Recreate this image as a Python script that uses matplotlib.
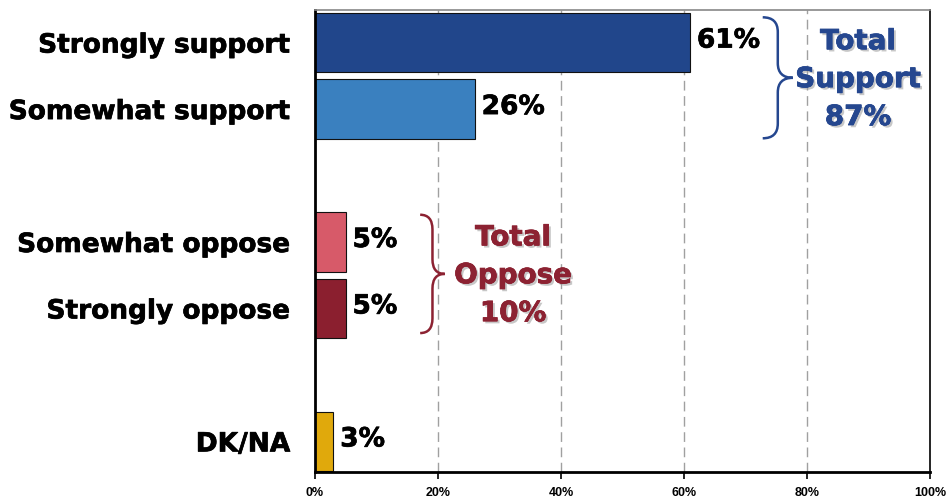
import matplotlib
matplotlib.use("Agg")
import matplotlib.pyplot as plt
import matplotlib.patheffects as pe
from matplotlib.path import Path
from matplotlib.patches import PathPatch

categories = ["Strongly support", "Somewhat support", "Somewhat oppose", "Strongly oppose", "DK/NA"]
values = [61, 26, 5, 5, 3]
positions = [0, 1, 3, 4, 6]
colors = ["#21468b", "#3a80bf", "#d75a69", "#8b1f2f", "#e0a90c"]
xticks = [0, 20, 40, 60, 80, 100]
xtick_labels = ["0%", "20%", "40%", "60%", "80%", "100%"]
group_labels = ["Total\nSupport\n87%", "Total\nOppose\n10%"]
group_colors = ["#25478f", "#8c2232"]

plt.rcParams['font.family'] = ['Liberation Sans', 'DejaVu Sans']
BIG = ['DejaVu Sans']
thick = [pe.withStroke(linewidth=0.5, foreground="black")]

fig = plt.figure(figsize=(9.5, 5.03), dpi=100)
ax = fig.add_axes([315/950, 1-472/503, 615/950, 462/503])

ax.set_xlim(0, 100)
ax.set_ylim(6.46, -0.49)

for g in [20, 40, 60, 80]:
    ax.axvline(g, color="#a0a0a0", lw=1.0, linestyle=(0, (7, 4)), zorder=0)

ax.barh(positions, values, height=0.9, color=colors, edgecolor="#111111", linewidth=0.8, zorder=2)

for p, v in zip(positions, values):
    ax.text(v + 1.1, p - 0.03, f"{v}%", va="center", ha="left", fontsize=19, fontweight="bold",
            color="black", family=BIG, path_effects=thick)

ax.set_yticks(positions)
ax.set_yticklabels(categories, fontsize=19, fontweight="bold", family=BIG)
for lbl in ax.get_yticklabels():
    lbl.set_path_effects(thick)
ax.tick_params(axis="y", length=0, pad=18)
ax.set_xticks(xticks)
ax.set_xticklabels(xtick_labels, fontsize=9, fontweight="bold")
ax.tick_params(axis="x", length=5, width=1.2, direction="out", pad=6)

for s in ["left", "bottom"]:
    ax.spines[s].set_linewidth(2)
    ax.spines[s].set_color("black")
ax.spines["right"].set_linewidth(1.2)
ax.spines["right"].set_color("black")
ax.spines["top"].set_linewidth(1.2)
ax.spines["top"].set_color("#888888")


def brace(ax, x0, x1, y0, y1, r, color):
    xm = (x0 + x1) / 2
    ym = (y0 + y1) / 2
    verts = [(x0, y0), (xm, y0), (xm, y0 + r),
             (xm, ym - r), (xm, ym), (x1, ym),
             (xm, ym), (xm, ym + r),
             (xm, y1 - r), (xm, y1), (x0, y1)]
    codes = [Path.MOVETO, Path.CURVE3, Path.CURVE3,
             Path.LINETO, Path.CURVE3, Path.CURVE3,
             Path.CURVE3, Path.CURVE3,
             Path.LINETO, Path.CURVE3, Path.CURVE3]
    ax.add_patch(PathPatch(Path(verts, codes), facecolor="none", edgecolor=color, lw=1.8, zorder=3))


def shadow(color):
    return [pe.withSimplePatchShadow(offset=(1.6, -1.6), shadow_rgbFace="#999999", alpha=0.55),
            pe.withStroke(linewidth=0.5, foreground=color)]

# Support group
brace(ax, 72.8, 77.7, -0.38, 1.44, 0.22, group_colors[0])
ax.text(88.3, 0.55, group_labels[0], ha="center", va="center", fontsize=20, fontweight="bold",
        color=group_colors[0], linespacing=1.45, family=BIG, path_effects=shadow(group_colors[0]))

# Oppose group
brace(ax, 17.1, 21.1, 2.59, 4.37, 0.22, group_colors[1])
ax.text(32.2, 3.5, group_labels[1], ha="center", va="center", fontsize=20, fontweight="bold",
        color=group_colors[1], linespacing=1.45, family=BIG, path_effects=shadow(group_colors[1]))

fig.savefig("out.png", dpi=100)
